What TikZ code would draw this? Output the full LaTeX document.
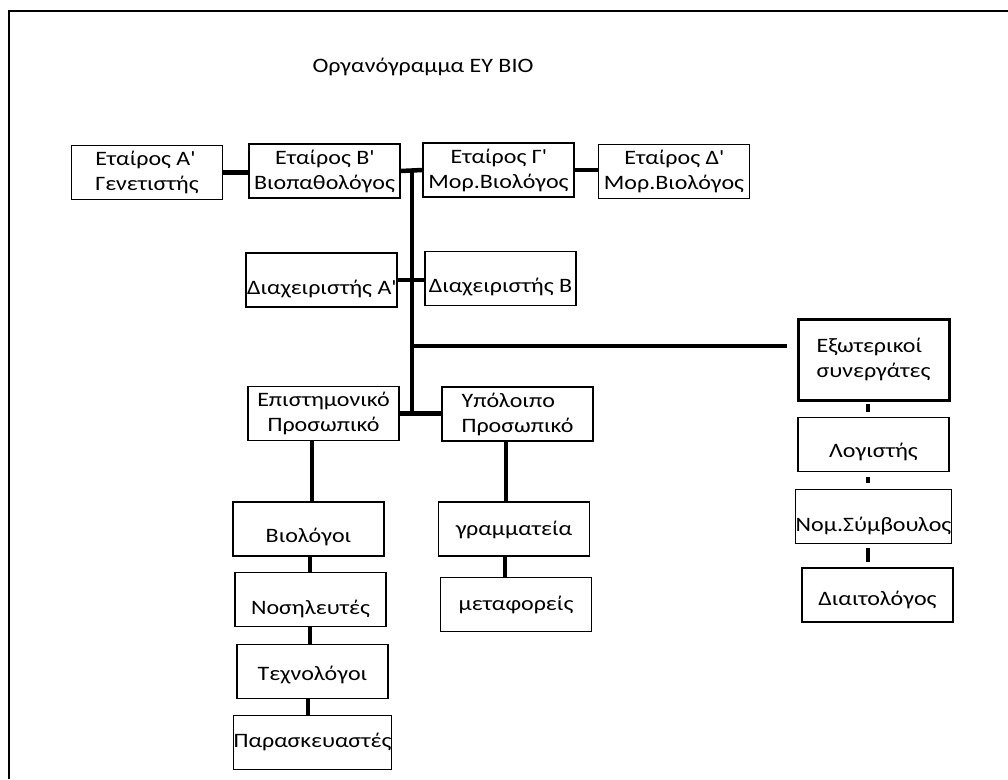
\documentclass[tikz,border=0pt]{standalone}
\usepackage{fontspec}
\setmainfont{Carlito}[FakeStretch=1.17]
\usepackage{tikz}

\begin{document}
\begin{tikzpicture}[x=1pt,y=-1pt,
    orgbox/.style={draw=black, line width=1.3pt, minimum width=151pt, minimum height=54pt, inner sep=0pt, align=center, font=\fontsize{20.5}{25}\selectfont},
    sink/.style={text height=#1, text depth=5pt},
    link/.style={black, line width=4.5pt}]
                \useasboundingbox (0,0) rectangle (1008,779);
                
                % Frame
                \draw[black, line width=2pt] (9,779) -- (9,11) -- (1008,11);
                
                % Title
                \node[font=\fontsize{20.5}{25}\selectfont] (title) at (423,67) {Οργανόγραμμα ΕΥ ΒΙΟ};
                
                % Partners
                \node[orgbox, align=left] (eta) at (147,172.5) {Εταίρος Α\textquotesingle\\Γενετιστής};
                \node[orgbox] (etb) at (324.5,171) {Εταίρος Β\textquotesingle\\Βιοπαθολόγος};
                \node[orgbox] (etc) at (498.5,170) {Εταίρος Γ\textquotesingle\\Μορ.Βιολόγος};
                \node[orgbox] (etd) at (674,171.5) {Εταίρος Δ\textquotesingle\\Μορ.Βιολόγος};
                \draw[link] (eta.east) -- (eta.east -| etb.west);
                \draw[link] (etb.east) -- (etc.west);
                \draw[link] (etc.east) -- (etc.east -| etd.west);
                
                % Trunk
                \coordinate (jtop) at (412,170);
                \coordinate (jext) at (412,346);
                \coordinate (jbot) at (412,413);
                \draw[link] (jtop) -- (jbot);
                
                % Managers
                \node[orgbox, sink=33pt] (dia) at (321.5,280) {Διαχειριστής Α\textquotesingle};
                \node[orgbox, sink=33pt] (dib) at (500.5,278.5) {Διαχειριστής Β};
                \draw[link] (dia.east) -- (dia.east -| dib.west);
                
                % External partners
                \node[orgbox, align=left, line width=3pt, minimum height=81pt] (ext) at (873.5,359.5) {Εξωτερικοί\\συνεργάτες};
                \node[orgbox, sink=30pt] (log) at (873.5,444.5) {Λογιστής};
                \node[orgbox, sink=34pt] (nom) at (873.5,516.5) {Νομ.Σύμβουλος};
                \node[orgbox, sink=25pt] (dit) at (877.5,595) {Διαιτολόγος};
                \draw[link] (jext) -- ([xshift=-10pt]jext -| ext.west);
                \draw[link, shorten <=2pt, shorten >=5pt] ([xshift=-5.5pt]ext.south) -- ([xshift=-5.5pt]ext.south |- log.north);
                \draw[link, shorten <=5pt, shorten >=6pt] ([xshift=-5.5pt]log.south) -- ([xshift=-5.5pt]log.south |- nom.north);
                \draw[link, shorten <=4pt, shorten >=5pt] ([xshift=-5.5pt]nom.south) -- ([xshift=-5.5pt]nom.south |- dit.north);
                
                % Staff
                \node[orgbox] (epi) at (323.5,413.5) {Επιστημονικό\\Προσωπικό};
                \node[orgbox, align=left] (ypo) at (517.5,414) {Υπόλοιπο\\Προσωπικό};
                \draw[link] (epi.east) -- (epi.east -| ypo.west);
                
                % Scientific staff
                \node[orgbox, sink=31pt] (bio) at (308.5,529) {Βιολόγοι};
                \node[orgbox, sink=34pt] (nos) at (310.5,599.5) {Νοσηλευτές};
                \node[orgbox, sink=22pt] (tex) at (312.5,671.5) {Τεχνολόγοι};
                \node[orgbox, sink=14pt] (par) at (312.5,742.5) {Παρασκευαστές};
                \draw[link] ([xshift=3.5pt]bio.north) -- ([xshift=3.5pt]bio.north |- epi.south);
                \draw[link] ([xshift=1.5pt]bio.south) -- ([xshift=1.5pt]bio.south |- nos.north);
                \draw[link] ([xshift=-0.5pt]nos.south) -- ([xshift=-0.5pt]nos.south |- tex.north);
                \draw[link] ([xshift=-4.5pt]tex.south) -- ([xshift=-4.5pt]tex.south |- par.north);
                
                % Other staff
                \node[orgbox, sink=17pt] (gra) at (514,529) {γραμματεία};
                \node[orgbox, align=left, sink=17pt] (met) at (516,604.5) {μεταφορείς};
                \draw[link] ([xshift=-8pt]gra.north) -- ([xshift=-8pt]gra.north |- ypo.south);
                \draw[link] ([xshift=-9pt]gra.south) -- ([xshift=-9pt]gra.south |- met.north);
            \end{tikzpicture}
\end{document}
